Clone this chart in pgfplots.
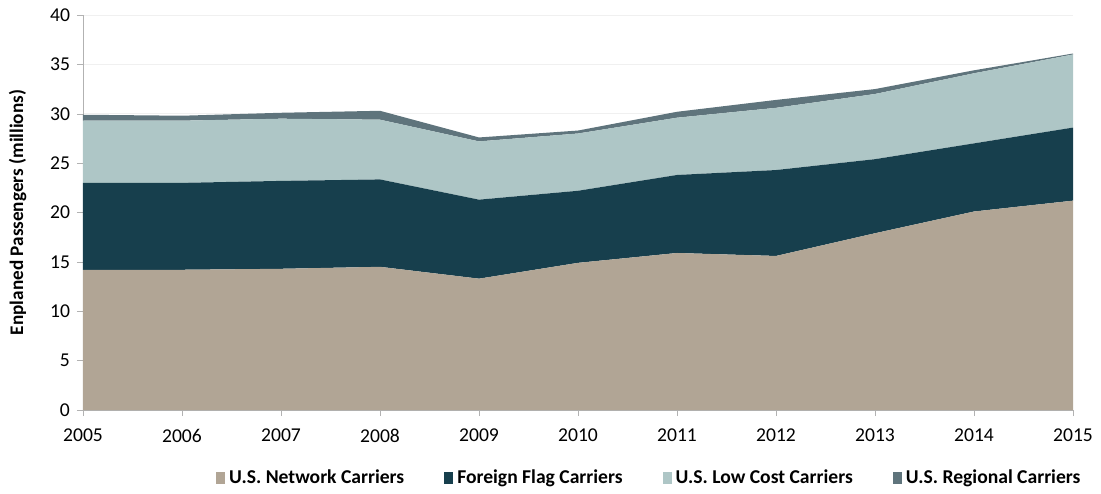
\documentclass[border=0pt]{standalone}
\usepackage{pgfplots}
\pgfplotsset{compat=1.18}
\usepackage{fontspec}
\setmainfont{Carlito}
\definecolor{netc}{HTML}{B1A595}
\definecolor{forc}{HTML}{173F4D}
\definecolor{lowc}{HTML}{AEC6C6}
\definecolor{regc}{HTML}{5F747C}
\begin{document}
\begin{tikzpicture}
\begin{axis}[
  at={(0,0)}, anchor=south west, scale only axis,
  width=495pt, height=197.5pt,
  xmin=2005, xmax=2015, ymin=0, ymax=40,
  xtick={2005,2006,...,2015}, ytick={0,5,...,40},
  x tick label style={/pgf/number format/1000 sep={}, yshift=-3pt},
  /pgf/number format/assume math mode=true,
  tick label style={font=\fontsize{9.8}{11}\selectfont},
  separate axis lines,
  axis x line=bottom, axis y line=left,
  axis line style={draw=gray!60, -},
  tick style={draw=gray!60},
  tick align=outside, major tick length=3pt,
  ymajorgrids, grid style={draw=gray!12},
  stack plots=y,
  ylabel={Enplaned Passengers (millions)},
  ylabel style={font=\bfseries\fontsize{9.6}{11}\selectfont, at={(axis description cs:-0.066,0.5)}, anchor=center},
  legend columns=4,
  legend style={draw=none, fill=none, at={(axis description cs:0.573,-0.172)}, anchor=center,
    font=\bfseries\fontsize{9.8}{11}\selectfont, /tikz/every even column/.append style={column sep=18pt}},
  legend image code/.code={\fill[#1] (0pt,-3pt) rectangle (4.5pt,3pt);},
]
\addplot[fill=netc, draw=none] coordinates {(2005,14.2) (2006,14.2) (2007,14.3) (2008,14.5) (2009,13.3) (2010,14.9) (2011,15.9) (2012,15.6) (2013,17.9) (2014,20.1) (2015,21.2)} \closedcycle;
\addlegendentry{U.S. Network Carriers}
\addplot[fill=forc, draw=none] coordinates {(2005,8.8) (2006,8.8) (2007,8.9) (2008,8.85) (2009,8.0) (2010,7.3) (2011,7.9) (2012,8.7) (2013,7.5) (2014,6.9) (2015,7.4)} \closedcycle;
\addlegendentry{Foreign Flag Carriers}
\addplot[fill=lowc, draw=none] coordinates {(2005,6.3) (2006,6.3) (2007,6.3) (2008,6.05) (2009,5.9) (2010,5.8) (2011,5.8) (2012,6.3) (2013,6.6) (2014,7.1) (2015,7.4)} \closedcycle;
\addlegendentry{U.S. Low Cost Carriers}
\addplot[fill=regc, draw=none] coordinates {(2005,0.6) (2006,0.5) (2007,0.6) (2008,0.9) (2009,0.4) (2010,0.3) (2011,0.6) (2012,0.8) (2013,0.5) (2014,0.3) (2015,0.1)} \closedcycle;
\addlegendentry{U.S. Regional Carriers}
\end{axis}
\pgfresetboundingbox
\path[use as bounding box] (-41.5pt,-41.5pt) rectangle (509pt,205pt);
\end{tikzpicture}
\end{document}
